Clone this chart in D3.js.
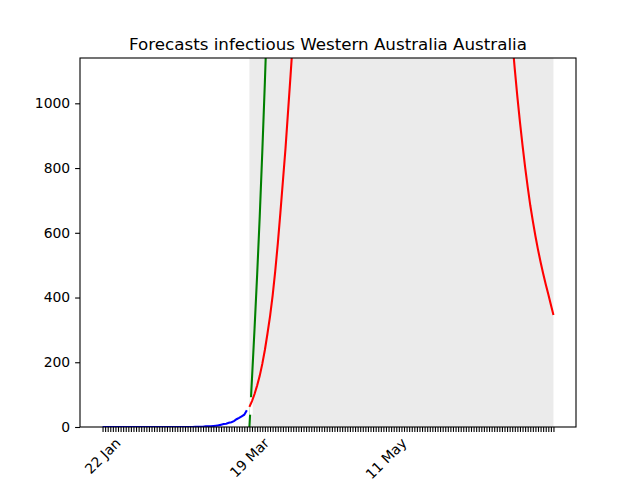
<!DOCTYPE html>
<html>
<head>
<meta charset="utf-8">
<script src="https://cdn.jsdelivr.net/npm/d3@7"></script>
<style>
  body { margin: 0; background: #fff; }
  svg { display: block; font-family: "DejaVu Sans", sans-serif; }
</style>
</head>
<body>
<svg id="chart" width="640" height="480"></svg>
<script>
// observed infectious, daily from 22 Jan
var blueStart = "2020-01-22";
var blueValues = [0, 0, 0, 0, 0, 0, 0, 0, 0, 0,
                  0, 0, 0, 0, 0, 0, 0, 0, 0, 0,
                  0, 0, 0, 0, 0, 0, 0, 0, 0, 0,
                  0, 0, 0, 0, 0, 0, 1, 1, 1, 1,
                  2, 2, 2, 3, 4, 5, 7, 9, 10, 13,
                  15, 18, 24, 28, 33, 38, 52];

// green forecast, daily from 19 Mar
var greenStart = "2020-03-19";
var greenValues = [0, 150, 305, 470, 650, 850, 1065, 1300];

// red forecast (values above the axis top are hidden)
var redDates = ["2020-03-19", "2020-03-20", "2020-03-21", "2020-03-22", "2020-03-23",
                "2020-03-24", "2020-03-25", "2020-03-26", "2020-03-27", "2020-03-28",
                "2020-03-29", "2020-03-30", "2020-03-31", "2020-04-01", "2020-04-02",
                "2020-04-03", "2020-04-04", "2020-04-05", "2020-04-06",
                "2020-04-11", "2020-04-21", "2020-05-01", "2020-05-11", "2020-05-21",
                "2020-05-31", "2020-06-10", "2020-06-20", "2020-06-25", "2020-06-28",
                "2020-06-29", "2020-06-30", "2020-07-01", "2020-07-02", "2020-07-03",
                "2020-07-04", "2020-07-05", "2020-07-06", "2020-07-07", "2020-07-08",
                "2020-07-09", "2020-07-10", "2020-07-11", "2020-07-12", "2020-07-13",
                "2020-07-14", "2020-07-15"];
var redValues = [62, 80, 102, 128, 158, 195, 238, 288, 342, 405,
                 480, 565, 660, 760, 860, 975, 1090, 1210, 1330,
                 1900, 3200, 4200, 4500, 4100, 3300, 2500, 1800, 1500, 1290,
                 1195, 1105, 1020, 942, 870, 803, 742, 685, 636, 590,
                 548, 510, 474, 441, 410, 378, 346];

var shadeRange = ["2020-03-19", "2020-07-15"];
var xRange = ["2020-01-22", "2020-07-15"];
var tickLabelDates = ["2020-01-22", "2020-03-19", "2020-05-11"];
var tickLabels = ["22 Jan", "19 Mar", "11 May"];
var yTicks = [0, 200, 400, 600, 800, 1000];
var yMax = 1140;

var parse = d3.utcParse("%Y-%m-%d");
var svg = d3.select("#chart");

var axLeft = 80, axRight = 576, axTop = 58, axBottom = 427;
var pad = (axRight - axLeft) / 22;
var lw = 2.08, thin = 1.1;

var x = d3.scaleUtc()
    .domain(xRange.map(parse))
    .range([axLeft + pad, axRight - pad]);
var y = d3.scaleLinear()
    .domain([0, yMax])
    .range([axBottom, axTop]);

function daily(start, values) {
    var d0 = parse(start);
    return values.map(function(v, i) {
        return {date: d3.utcDay.offset(d0, i), value: v};
    });
}

var blue = daily(blueStart, blueValues);
var green = daily(greenStart, greenValues);
var red = redDates.map(function(d, i) {
    return {date: parse(d), value: redValues[i]};
});

svg.append("defs").append("clipPath").attr("id", "clip")
    .append("rect")
    .attr("x", axLeft).attr("y", axTop)
    .attr("width", axRight - axLeft).attr("height", axBottom - axTop);

var plot = svg.append("g").attr("clip-path", "url(#clip)");

plot.append("rect")
    .attr("x", x(parse(shadeRange[0])))
    .attr("y", axTop)
    .attr("width", x(parse(shadeRange[1])) - x(parse(shadeRange[0])))
    .attr("height", axBottom - axTop)
    .attr("fill", "#ebebeb");

var line = d3.line()
    .x(function(d) { return x(d.date); })
    .y(function(d) { return y(d.value); });

plot.append("path").datum(green)
    .attr("d", line)
    .attr("fill", "none").attr("stroke", "green").attr("stroke-width", lw);

// white break in the green line between 38 and 92
var step = green[1].value - green[0].value;
var between = d3.interpolateDate(green[0].date, green[1].date);
plot.append("path").datum([{date: between(38 / step), value: 38}, {date: between(92 / step), value: 92}])
    .attr("d", line)
    .attr("fill", "none").attr("stroke", "#fff").attr("stroke-width", 3.5);

plot.append("path").datum(blue)
    .attr("d", line)
    .attr("fill", "none").attr("stroke", "blue").attr("stroke-width", lw);

plot.append("path").datum(red)
    .attr("d", line)
    .attr("fill", "none").attr("stroke", "red").attr("stroke-width", lw);

// x axis: one tick per day, three labelled
var dayTicks = d3.utcDay.range(parse(xRange[0]), d3.utcDay.offset(parse(xRange[1]), 1));
var xAxis = svg.append("g")
    .attr("transform", "translate(0," + axBottom + ")")
    .call(d3.axisBottom(x).tickValues(dayTicks).tickSize(4.9).tickFormat(""));
xAxis.select(".domain").remove();
xAxis.selectAll("line").attr("stroke", "#000").attr("stroke-width", thin);

tickLabelDates.forEach(function(d, i) {
    var t = svg.append("text")
        .attr("font-size", 13.9)
        .attr("text-anchor", "middle")
        .attr("dominant-baseline", "central")
        .text(tickLabels[i]);
    var w = t.node().getComputedTextLength();
    var h = 10.5;
    var cy = axBottom + 4.9 + 4.9 + (w + h) / (2 * Math.SQRT2);
    t.attr("transform", "translate(" + x(parse(d)) + "," + cy + ") rotate(-45)");
});

// y axis
var yAxis = svg.append("g")
    .attr("transform", "translate(" + axLeft + ",0)")
    .call(d3.axisLeft(y).tickValues(yTicks).tickSize(4.9).tickPadding(4.9).tickFormat(d3.format("d")));
yAxis.select(".domain").remove();
yAxis.selectAll("line").attr("stroke", "#000").attr("stroke-width", thin);
yAxis.selectAll("text")
    .attr("font-size", 13.9)
    .attr("font-family", "DejaVu Sans")
    .attr("fill", "#000");

svg.append("rect")
    .attr("x", axLeft).attr("y", axTop)
    .attr("width", axRight - axLeft).attr("height", axBottom - axTop)
    .attr("fill", "none").attr("stroke", "#000").attr("stroke-width", thin);

svg.append("text")
    .attr("x", (axLeft + axRight) / 2)
    .attr("y", 50)
    .attr("text-anchor", "middle")
    .attr("font-size", 16.7)
    .text("Forecasts infectious Western Australia Australia");
</script>
</body>
</html>
